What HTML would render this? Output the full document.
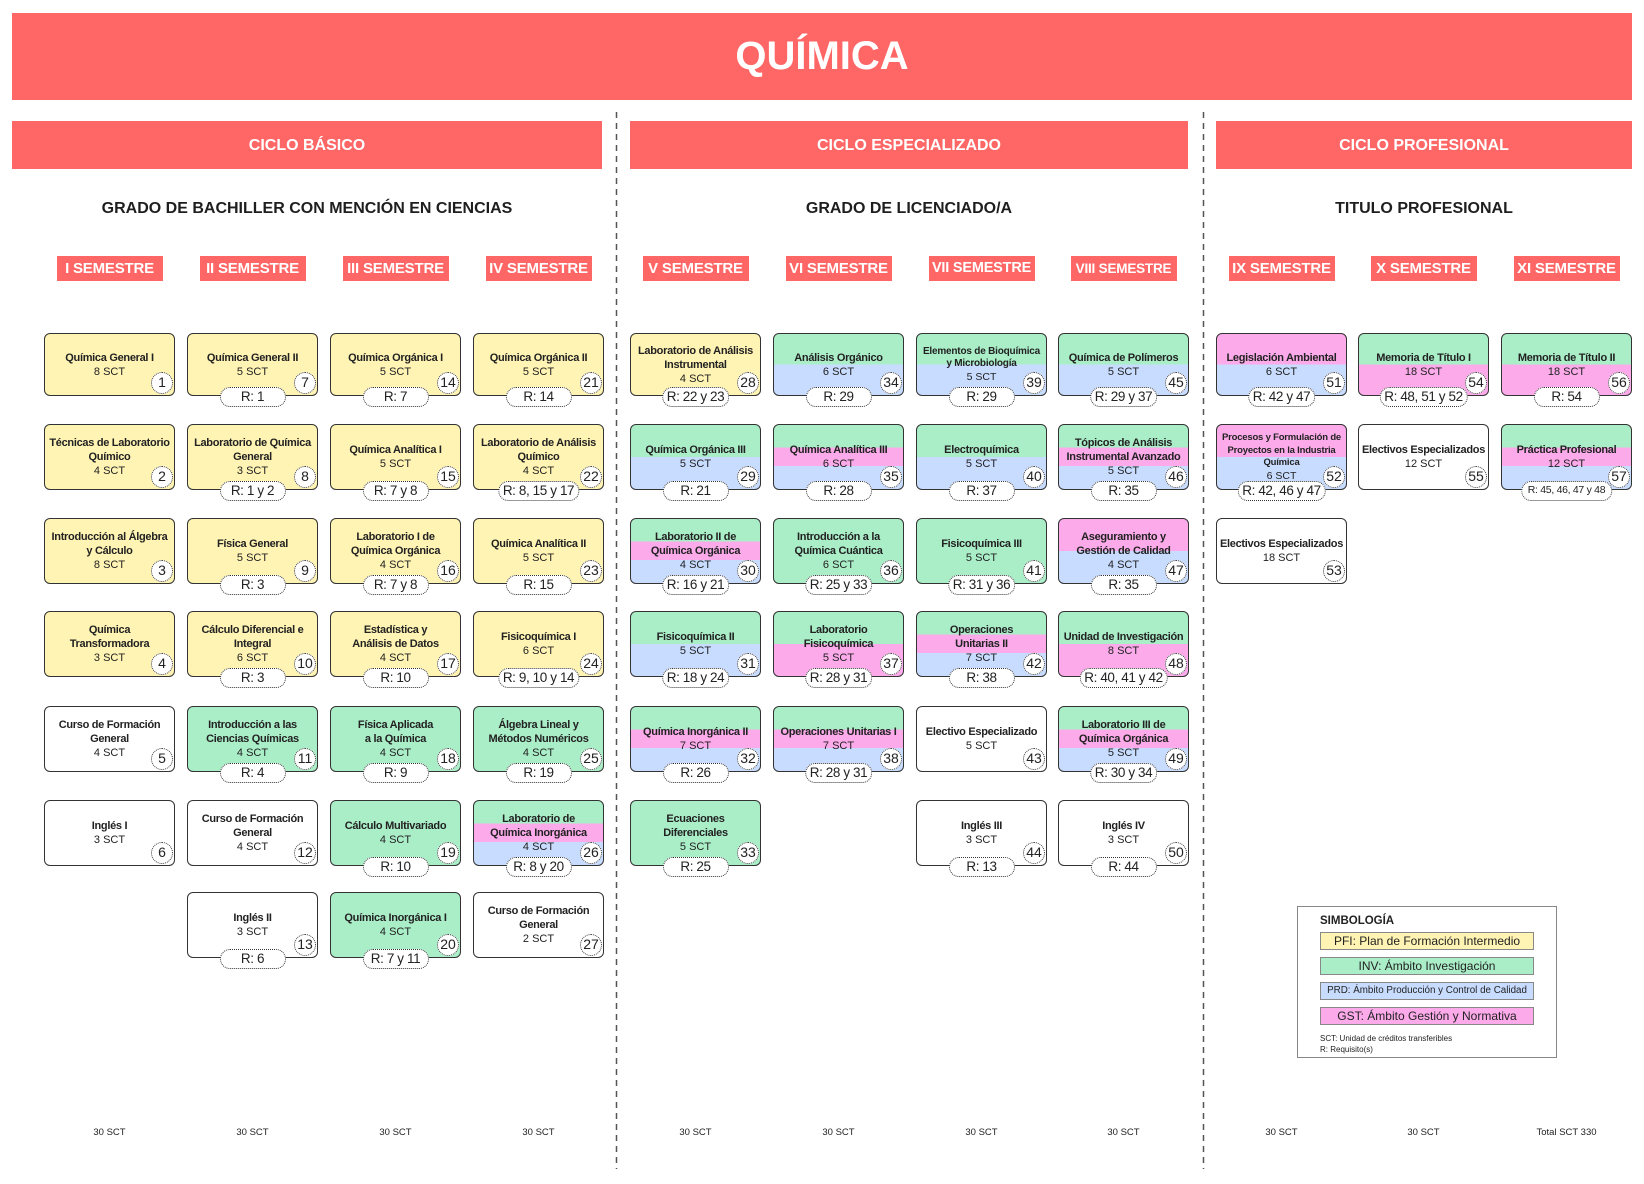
<!DOCTYPE html>
<html><head><meta charset="utf-8">
<style>
*{margin:0;padding:0}
body{width:1644px;height:1184px;position:relative;background:#fff;font-family:"Liberation Sans",sans-serif;overflow:hidden;color:#222}
.bar{position:absolute;background:#ff6666;color:#fff;font-weight:bold;display:flex;align-items:center;justify-content:center;white-space:nowrap}
.gr{position:absolute;top:198px;height:21px;line-height:21px;font-size:16px;font-weight:bold;text-align:center;color:#1e1e1e;white-space:nowrap}
.sem{position:absolute;top:256px;width:106px;height:25px;background:#ff6666;color:#fff;font-weight:bold;font-size:15px;line-height:25px;text-align:center;white-space:nowrap;letter-spacing:-0.2px}
.c{position:absolute;width:131px;box-sizing:border-box;border:1.5px solid #333;border-radius:6px;display:flex;flex-direction:column;justify-content:center;align-items:center;text-align:center;line-height:14px;color:#222}
.t{font-weight:bold;font-size:11px;letter-spacing:-0.3px;white-space:nowrap}
.s{font-size:11px;white-space:nowrap}
.n{position:absolute;right:1px;bottom:1.5px;width:22px;height:22px;box-sizing:border-box;border:1.5px dotted #333;border-radius:50%;background:#fff;font-size:14px;line-height:19px;text-align:center;font-style:normal;color:#222}
.q{position:absolute;bottom:-11.5px;left:50%;transform:translateX(-50%);min-width:66px;height:20px;box-sizing:border-box;border:1.5px dotted #333;border-radius:10px;background:#fff;font-size:13.5px;letter-spacing:-0.4px;line-height:17px;padding:0 4px;white-space:nowrap;text-align:center;color:#222}
.y{background:#fff4b4}
.g{background:#aaeec8}
.w{background:#fff}
.gb{background:linear-gradient(#aaeec8 50%,#c8dcff 50%)}
.gp{background:linear-gradient(#aaeec8 50%,#fcaaea 50%)}
.pb{background:linear-gradient(#fcaaea 50%,#c8dcff 50%)}
.gpb{background:linear-gradient(#aaeec8 35%,#fcaaea 35%,#fcaaea 64%,#c8dcff 64%)}
.r1{top:333px;height:63px}
.r2{top:424px;height:66px}
.r3{top:518px;height:66px}
.r4{top:611px;height:66px}
.r5{top:706px;height:66px}
.r6{top:800px;height:66px}
.r7{top:892px;height:66px}
.k1{left:44px}.k2{left:187px}.k3{left:330px}.k4{left:473px}
.k5{left:630px}.k6{left:773px}.k7{left:916px}.k8{left:1058px}
.k9{left:1216px}.k10{left:1358px}.k11{left:1501px}
.tot{position:absolute;top:1127px;width:131px;text-align:center;font-size:9.5px;line-height:12px;color:#222;white-space:nowrap}
.leg{position:absolute;left:1297px;top:906px;width:260px;height:152px;box-sizing:border-box;border:1px solid #888;background:#fff}
.lb{position:absolute;left:22px;width:214px;height:18px;box-sizing:border-box;border:1px solid #888;text-align:center;font-size:12px;line-height:16px;white-space:nowrap;color:#222}
</style></head>
<body>
<svg width="1644" height="1184" style="position:absolute;left:0;top:0">
<line x1="616.5" y1="112" x2="616.5" y2="1169" stroke="#555" stroke-width="1.5" stroke-dasharray="6 5"/>
<line x1="1203.5" y1="112" x2="1203.5" y2="1169" stroke="#555" stroke-width="1.5" stroke-dasharray="6 5"/>
</svg>

<div class="bar" style="left:12px;top:13px;width:1620px;height:87px;font-size:40px">QUÍMICA</div>
<div class="bar" style="left:12px;top:121px;width:590px;height:48px;font-size:16px;padding-top:2px;box-sizing:border-box">CICLO BÁSICO</div>
<div class="bar" style="left:630px;top:121px;width:558px;height:48px;font-size:16px;padding-top:2px;box-sizing:border-box">CICLO ESPECIALIZADO</div>
<div class="bar" style="left:1216px;top:121px;width:416px;height:48px;font-size:16px;padding-top:2px;box-sizing:border-box">CICLO PROFESIONAL</div>

<div class="gr" style="left:12px;width:590px">GRADO DE BACHILLER CON MENCIÓN EN CIENCIAS</div>
<div class="gr" style="left:630px;width:558px">GRADO DE LICENCIADO/A</div>
<div class="gr" style="left:1216px;width:416px">TITULO PROFESIONAL</div>

<div class="sem" style="left:56.5px">I SEMESTRE</div>
<div class="sem" style="left:199.5px">II SEMESTRE</div>
<div class="sem" style="left:342.5px">III SEMESTRE</div>
<div class="sem" style="left:485.5px">IV SEMESTRE</div>
<div class="sem" style="left:642.5px">V SEMESTRE</div>
<div class="sem" style="left:785.5px">VI SEMESTRE</div>
<div class="sem" style="left:928.5px;font-size:14.5px">VII SEMESTRE</div>
<div class="sem" style="left:1070.5px;font-size:13.5px">VIII SEMESTRE</div>
<div class="sem" style="left:1228.5px">IX SEMESTRE</div>
<div class="sem" style="left:1370.5px">X SEMESTRE</div>
<div class="sem" style="left:1513.5px">XI SEMESTRE</div>

<!-- Column I -->
<div class="c y k1 r1"><div class="t">Química General I</div><div class="s">8 SCT</div><i class="n">1</i></div>
<div class="c y k1 r2"><div class="t">Técnicas de Laboratorio<br>Químico</div><div class="s">4 SCT</div><i class="n">2</i></div>
<div class="c y k1 r3"><div class="t">Introducción al Álgebra<br>y Cálculo</div><div class="s">8 SCT</div><i class="n">3</i></div>
<div class="c y k1 r4"><div class="t">Química<br>Transformadora</div><div class="s">3 SCT</div><i class="n">4</i></div>
<div class="c w k1 r5"><div class="t">Curso de Formación<br>General</div><div class="s">4 SCT</div><i class="n">5</i></div>
<div class="c w k1 r6"><div class="t">Inglés I</div><div class="s">3 SCT</div><i class="n">6</i></div>

<!-- Column II -->
<div class="c y k2 r1"><div class="t">Química General II</div><div class="s">5 SCT</div><i class="n">7</i><span class="q">R: 1</span></div>
<div class="c y k2 r2"><div class="t">Laboratorio de Química<br>General</div><div class="s">3 SCT</div><i class="n">8</i><span class="q">R: 1 y 2</span></div>
<div class="c y k2 r3"><div class="t">Física General</div><div class="s">5 SCT</div><i class="n">9</i><span class="q">R: 3</span></div>
<div class="c y k2 r4"><div class="t">Cálculo Diferencial e<br>Integral</div><div class="s">6 SCT</div><i class="n">10</i><span class="q">R: 3</span></div>
<div class="c g k2 r5"><div class="t">Introducción a las<br>Ciencias Químicas</div><div class="s">4 SCT</div><i class="n">11</i><span class="q">R: 4</span></div>
<div class="c w k2 r6"><div class="t">Curso de Formación<br>General</div><div class="s">4 SCT</div><i class="n">12</i></div>
<div class="c w k2 r7"><div class="t">Inglés II</div><div class="s">3 SCT</div><i class="n">13</i><span class="q">R: 6</span></div>

<!-- Column III -->
<div class="c y k3 r1"><div class="t">Química Orgánica I</div><div class="s">5 SCT</div><i class="n">14</i><span class="q">R: 7</span></div>
<div class="c y k3 r2"><div class="t">Química Analítica I</div><div class="s">5 SCT</div><i class="n">15</i><span class="q">R: 7 y 8</span></div>
<div class="c y k3 r3"><div class="t">Laboratorio I de<br>Química Orgánica</div><div class="s">4 SCT</div><i class="n">16</i><span class="q">R: 7 y 8</span></div>
<div class="c y k3 r4"><div class="t">Estadística y<br>Análisis de Datos</div><div class="s">4 SCT</div><i class="n">17</i><span class="q">R: 10</span></div>
<div class="c g k3 r5"><div class="t">Física Aplicada<br>a la Química</div><div class="s">4 SCT</div><i class="n">18</i><span class="q">R: 9</span></div>
<div class="c g k3 r6"><div class="t">Cálculo Multivariado</div><div class="s">4 SCT</div><i class="n">19</i><span class="q">R: 10</span></div>
<div class="c g k3 r7"><div class="t">Química Inorgánica I</div><div class="s">4 SCT</div><i class="n">20</i><span class="q">R: 7 y 11</span></div>

<!-- Column IV -->
<div class="c y k4 r1"><div class="t">Química Orgánica II</div><div class="s">5 SCT</div><i class="n">21</i><span class="q">R: 14</span></div>
<div class="c y k4 r2"><div class="t">Laboratorio de Análisis<br>Químico</div><div class="s">4 SCT</div><i class="n">22</i><span class="q">R: 8, 15 y 17</span></div>
<div class="c y k4 r3"><div class="t">Química Analítica II</div><div class="s">5 SCT</div><i class="n">23</i><span class="q">R: 15</span></div>
<div class="c y k4 r4"><div class="t">Fisicoquímica I</div><div class="s">6 SCT</div><i class="n">24</i><span class="q">R: 9, 10 y 14</span></div>
<div class="c g k4 r5"><div class="t">Álgebra Lineal y<br>Métodos Numéricos</div><div class="s">4 SCT</div><i class="n">25</i><span class="q">R: 19</span></div>
<div class="c gpb k4 r6"><div class="t">Laboratorio de<br>Química Inorgánica</div><div class="s">4 SCT</div><i class="n">26</i><span class="q">R: 8 y 20</span></div>
<div class="c w k4 r7"><div class="t">Curso de Formación<br>General</div><div class="s">2 SCT</div><i class="n">27</i></div>

<!-- Column V -->
<div class="c y k5 r1"><div class="t">Laboratorio de Análisis<br>Instrumental</div><div class="s">4 SCT</div><i class="n">28</i><span class="q">R: 22 y 23</span></div>
<div class="c gb k5 r2"><div class="t">Química Orgánica III</div><div class="s">5 SCT</div><i class="n">29</i><span class="q">R: 21</span></div>
<div class="c gpb k5 r3"><div class="t">Laboratorio II de<br>Química Orgánica</div><div class="s">4 SCT</div><i class="n">30</i><span class="q">R: 16 y 21</span></div>
<div class="c gb k5 r4"><div class="t">Fisicoquímica II</div><div class="s">5 SCT</div><i class="n">31</i><span class="q">R: 18 y 24</span></div>
<div class="c gpb k5 r5"><div class="t">Química Inorgánica II</div><div class="s">7 SCT</div><i class="n">32</i><span class="q">R: 26</span></div>
<div class="c g k5 r6"><div class="t">Ecuaciones<br>Diferenciales</div><div class="s">5 SCT</div><i class="n">33</i><span class="q">R: 25</span></div>

<!-- Column VI -->
<div class="c gb k6 r1"><div class="t">Análisis Orgánico</div><div class="s">6 SCT</div><i class="n">34</i><span class="q">R: 29</span></div>
<div class="c gpb k6 r2"><div class="t">Química Analítica III</div><div class="s">6 SCT</div><i class="n">35</i><span class="q">R: 28</span></div>
<div class="c g k6 r3"><div class="t">Introducción a la<br>Química Cuántica</div><div class="s">6 SCT</div><i class="n">36</i><span class="q">R: 25 y 33</span></div>
<div class="c gp k6 r4"><div class="t">Laboratorio<br>Fisicoquímica</div><div class="s">5 SCT</div><i class="n">37</i><span class="q">R: 28 y 31</span></div>
<div class="c gpb k6 r5"><div class="t">Operaciones Unitarias I</div><div class="s">7 SCT</div><i class="n">38</i><span class="q">R: 28 y 31</span></div>

<!-- Column VII -->
<div class="c gb k7 r1" style="line-height:12.5px"><div class="t" style="font-size:10px;letter-spacing:-0.2px">Elementos de Bioquímica<br>y Microbiología</div><div class="s" style="font-size:10.5px">5 SCT</div><i class="n">39</i><span class="q">R: 29</span></div>
<div class="c gb k7 r2"><div class="t">Electroquímica</div><div class="s">5 SCT</div><i class="n">40</i><span class="q">R: 37</span></div>
<div class="c g k7 r3"><div class="t">Fisicoquímica III</div><div class="s">5 SCT</div><i class="n">41</i><span class="q">R: 31 y 36</span></div>
<div class="c gpb k7 r4"><div class="t">Operaciones<br>Unitarias II</div><div class="s">7 SCT</div><i class="n">42</i><span class="q">R: 38</span></div>
<div class="c w k7 r5"><div class="t">Electivo Especializado</div><div class="s">5 SCT</div><i class="n">43</i></div>
<div class="c w k7 r6"><div class="t">Inglés III</div><div class="s">3 SCT</div><i class="n">44</i><span class="q">R: 13</span></div>

<!-- Column VIII -->
<div class="c gb k8 r1"><div class="t">Química de Polímeros</div><div class="s">5 SCT</div><i class="n">45</i><span class="q">R: 29 y 37</span></div>
<div class="c gpb k8 r2"><div class="t">Tópicos de Análisis<br>Instrumental Avanzado</div><div class="s">5 SCT</div><i class="n">46</i><span class="q">R: 35</span></div>
<div class="c pb k8 r3"><div class="t">Aseguramiento y<br>Gestión de Calidad</div><div class="s">4 SCT</div><i class="n">47</i><span class="q">R: 35</span></div>
<div class="c gp k8 r4"><div class="t">Unidad de Investigación</div><div class="s">8 SCT</div><i class="n">48</i><span class="q">R: 40, 41 y 42</span></div>
<div class="c gpb k8 r5"><div class="t">Laboratorio III de<br>Química Orgánica</div><div class="s">5 SCT</div><i class="n">49</i><span class="q">R: 30 y 34</span></div>
<div class="c w k8 r6"><div class="t">Inglés IV</div><div class="s">3 SCT</div><i class="n">50</i><span class="q">R: 44</span></div>

<!-- Column IX -->
<div class="c pb k9 r1"><div class="t">Legislación Ambiental</div><div class="s">6 SCT</div><i class="n">51</i><span class="q">R: 42 y 47</span></div>
<div class="c pb k9 r2" style="line-height:12.5px"><div class="t" style="font-size:9.5px;letter-spacing:-0.2px">Procesos y Formulación de<br>Proyectos en la Industria<br>Química</div><div class="s" style="font-size:10.5px">6 SCT</div><i class="n">52</i><span class="q">R: 42, 46 y 47</span></div>
<div class="c w k9 r3"><div class="t">Electivos Especializados</div><div class="s">18 SCT</div><i class="n">53</i></div>

<!-- Column X -->
<div class="c gp k10 r1"><div class="t">Memoria de Título I</div><div class="s">18 SCT</div><i class="n">54</i><span class="q">R: 48, 51 y 52</span></div>
<div class="c w k10 r2"><div class="t">Electivos Especializados</div><div class="s">12 SCT</div><i class="n">55</i></div>

<!-- Column XI -->
<div class="c gp k11 r1"><div class="t">Memoria de Título II</div><div class="s">18 SCT</div><i class="n">56</i><span class="q">R: 54</span></div>
<div class="c gpb k11 r2"><div class="t">Práctica Profesional</div><div class="s">12 SCT</div><i class="n">57</i><span class="q" style="font-size:10.5px;letter-spacing:-0.3px;padding:0 6px">R: 45, 46, 47 y 48</span></div>

<!-- Legend -->
<div class="leg">
  <div style="position:absolute;left:22px;top:6px;font-size:11.5px;font-weight:bold;line-height:16px;color:#222">SIMBOLOGÍA</div>
  <div class="lb" style="top:25px;background:#fff4b4">PFI: Plan de Formación Intermedio</div>
  <div class="lb" style="top:50px;background:#aaeec8">INV: Ámbito Investigación</div>
  <div class="lb" style="top:75px;background:#c8dcff;font-size:9.8px">PRD: Ámbito Producción y Control de Calidad</div>
  <div class="lb" style="top:100px;background:#fcaaea">GST: Ámbito Gestión y Normativa</div>
  <div style="position:absolute;left:22px;top:126px;font-size:8px;line-height:11px;color:#222;white-space:nowrap">SCT: Unidad de créditos transferibles<br>R: Requisito(s)</div>
</div>

<!-- Totals -->
<div class="tot k1">30 SCT</div>
<div class="tot k2">30 SCT</div>
<div class="tot k3">30 SCT</div>
<div class="tot k4">30 SCT</div>
<div class="tot k5">30 SCT</div>
<div class="tot k6">30 SCT</div>
<div class="tot k7">30 SCT</div>
<div class="tot k8">30 SCT</div>
<div class="tot k9">30 SCT</div>
<div class="tot k10">30 SCT</div>
<div class="tot k11">Total SCT 330</div>
</body></html>
